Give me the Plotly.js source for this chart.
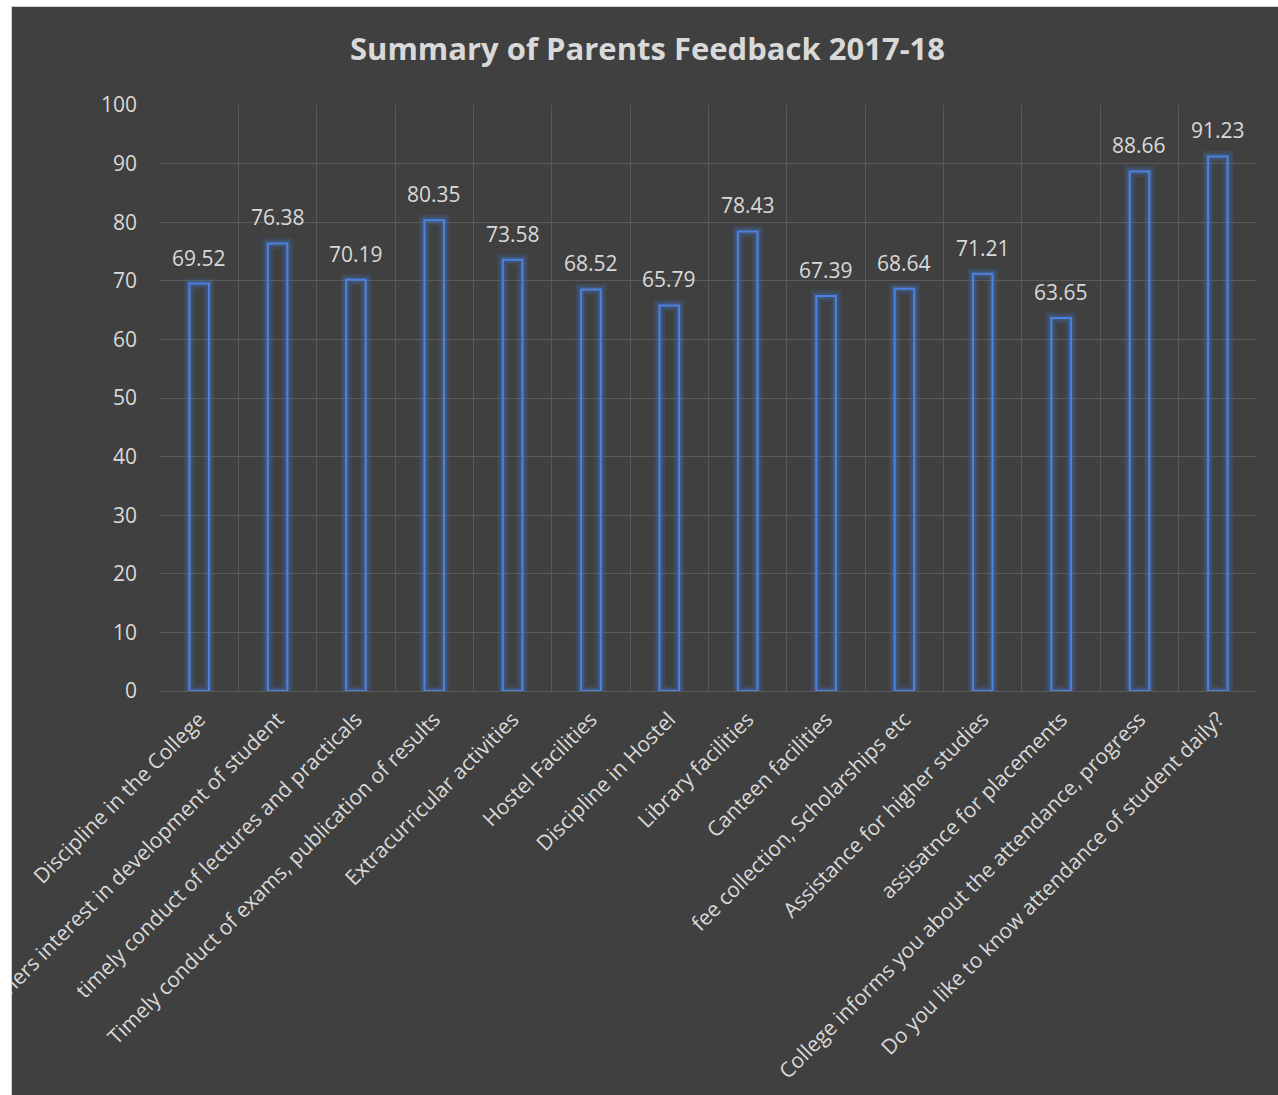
<!DOCTYPE html>
<html>
<head>
<meta charset="utf-8">
<script src="https://cdn.plot.ly/plotly-3.0.1.min.js"></script>
<style>
  html, body { margin: 0; padding: 0; background: #ffffff; width: 1278px; height: 1095px; overflow: hidden; }
  #frame { position: absolute; left: 11px; top: 6px; width: 1267px; height: 1089px; border-top: 1px solid #d0d0d0; border-left: 1px solid #d0d0d0; overflow: hidden; background: #404040; }
  #chart { width: 1266px; height: 1088px; }
</style>
</head>
<body>
<div id="frame"><div id="chart"></div></div>
<script>
const categories = [
  "Discipline in the College",
  "Teachers interest in development of student",
  "timely conduct of lectures and practicals",
  "Timely conduct of exams, publication of results",
  "Extracurricular activities",
  "Hostel Facilities",
  "Discipline in Hostel",
  "Library facilities",
  "Canteen facilities",
  "fee collection, Scholarships etc",
  "Assistance for higher studies",
  "assisatnce for placements",
  "College informs you about the attendance, progress",
  "Do you like to know attendance of student daily?"
];
const scores = [69.52, 76.38, 70.19, 80.35, 73.58, 68.52, 65.79, 78.43, 67.39, 68.64, 71.21, 63.65, 88.66, 91.23];
const scoreLabels = scores.map(v => v.toFixed(2));
const chartTitle = "Summary of Parents Feedback 2017-18";

function barTrace(lineColor, lineWidth) {
  return {
    type: 'bar', x: categories, y: scores, width: 0.25,
    marker: { color: 'rgba(0,0,0,0)', line: { color: lineColor, width: lineWidth } },
    hoverinfo: 'skip', showlegend: false
  };
}
const glowOuter = barTrace('rgba(68,114,196,0.18)', 11);
const glowInner = barTrace('rgba(68,114,196,0.30)', 6);
const main = barTrace('#4c82e0', 2);

const annotations = categories.map((c, i) => ({
  x: c, y: scores[i], xref: 'x', yref: 'y', text: scoreLabels[i],
  showarrow: false, yanchor: 'bottom', yshift: 10,
  font: { family: 'Open Sans, sans-serif', size: 21, color: '#d9d9d9' }
}));

const layout = {
  width: 1266, height: 1088,
  paper_bgcolor: '#404040', plot_bgcolor: '#404040',
  margin: { l: 148, r: 21, t: 98, b: 404 },
  barmode: 'overlay',
  title: { text: '<b>' + chartTitle + '</b>', x: 0.502, xanchor: 'center', y: 0.961, yanchor: 'middle',
           font: { family: 'Open Sans, sans-serif', size: 31, color: '#d9d9d9' } },
  xaxis: {
    type: 'category', tickson: 'boundaries', tickangle: -45,
    showgrid: true, gridcolor: '#5a5a5a', gridwidth: 1,
    ticks: '', showline: false, zeroline: false, ticklabelstandoff: 11,
    tickfont: { family: 'Open Sans, sans-serif', size: 21, color: '#d9d9d9' },
    automargin: false
  },
  yaxis: {
    range: [0, 100], dtick: 10, showgrid: true, gridcolor: '#5a5a5a', gridwidth: 1,
    zeroline: true, zerolinecolor: '#5a5a5a', zerolinewidth: 1, showline: false, ticks: '',
    ticklabelstandoff: 22,
    tickfont: { family: 'Open Sans, sans-serif', size: 21, color: '#d9d9d9' },
    automargin: false
  },
  annotations: annotations,
  font: { family: 'Open Sans, sans-serif', color: '#d9d9d9' }
};

Plotly.newPlot('chart', [glowOuter, glowInner, main], layout, { displayModeBar: false, staticPlot: true });
</script>
</body>
</html>
